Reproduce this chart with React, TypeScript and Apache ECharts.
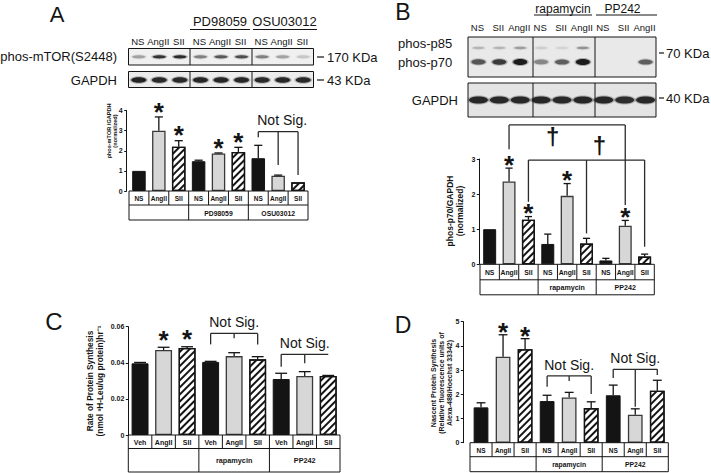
import React, { useEffect, useRef } from "react";
import * as echarts from "echarts";

// ---------------- data ----------------
const nsCategories = ["NS", "AngII", "SII", "NS", "AngII", "SII", "NS", "AngII", "SII"];
const vehCategories = ["Veh", "AngII", "SII", "Veh", "AngII", "SII", "Veh", "AngII", "SII"];
const aGroups = ["", "PD98059", "OSU03012"];
const rapGroups = ["", "rapamycin", "PP242"];

// Panel A: phos-mTOR / GAPDH (normalized)
const aMean = [1.0, 3.0, 2.2, 1.48, 1.86, 1.94, 1.63, 0.76, 0.43];
const aSem = [0, 0.68, 0.3, 0.05, 0.03, 0.23, 0.64, 0.03, 0];
const aStars = [1, 2, 4, 5];
const aTickLabels = ["0", "1", "2", "3", "4"];

// Panel B: phos-p70 / GAPDH (normalized)
const bMean = [1.0, 2.36, 1.27, 0.58, 1.95, 0.59, 0.11, 1.1, 0.22];
const bSem = [0, 0.38, 0.09, 0.28, 0.35, 0.15, 0.06, 0.15, 0.07];
const bStars = [1, 2, 4, 7];
const bTickLabels = ["0", "1", "2", "3"];

// Panel C: rate of protein synthesis
const cMean = [0.0397, 0.0471, 0.0482, 0.0405, 0.0437, 0.0419, 0.031, 0.0327, 0.0327];
const cSem = [0.0005, 0.0015, 0.0007, 0.0003, 0.0019, 0.0015, 0.0032, 0.0024, 0.0003];
const cStars = [1, 2];
const cTickLabels = ["0", "0.02", "0.04", "0.06"];

// Panel D: nascent protein synthesis
const dMean = [1.46, 3.55, 3.86, 1.72, 1.87, 1.43, 1.96, 1.16, 2.15];
const dSem = [0.19, 0.91, 0.44, 0.24, 0.21, 0.26, 0.42, 0.24, 0.43];
const dStars = [1, 2];
const dTickLabels = ["0", "1", "2", "3", "4", "5"];

// Significance brackets (levels in data units)
const aBrackets = [{ cats: [6, 7, 8], level: 2.95, drops: [2.67, 1.29, 0.8], label: "Not Sig.", labelDx: 4 }];
const bBrackets = [
  { cats: [1, 7], level: 3.97, drops: [3.28, 1.69], dagger: 3.25, daggerDy: 11.5 },
  { cats: [2, 5, 8], level: 2.97, drops: [1.78, 0.88, 0.5], dagger: 5.66, daggerDy: -15 },
];
const cBrackets = [
  { cats: [3, 4, 5], level: 0.0563, drops: [0.0502, 0.0536, 0.0502], label: "Not Sig." },
  { cats: [6, 7, 8], level: 0.0447, drops: [0.0378, 0.0397, null], label: "Not Sig." },
];
const dBrackets = [
  { cats: [3, 4, 5], level: 2.76, drops: [2.31, 2.55, 2.01], label: "Not Sig." },
  { cats: [6, 7, 8], level: 3.03, drops: [2.67, 1.49, 2.8], label: "Not Sig." },
];

// Western blot lanes and band intensities (0..1)
const blotALanes = ["NS", "AngII", "SII", "NS", "AngII", "SII", "NS", "AngII", "SII"];
const blotAGroups = ["PD98059", "OSU03012"];
const aMtorBands = [0.3, 0.85, 0.9, 0.45, 0.65, 0.7, 0.45, 0.3, 0.15];
const aGapdhBands = [0.95, 0.9, 0.9, 0.92, 0.92, 0.92, 0.9, 0.92, 0.9];
const blotBLanes = ["NS", "SII", "AngII", "NS", "SII", "AngII", "NS", "SII", "AngII"];
const blotBGroups = ["rapamycin", "PP242"];
const bP85Bands = [0.2, 0.2, 0.3, 0.1, 0.08, 0.35, 0, 0, 0];
const bP70Bands = [0.65, 0.8, 1.0, 0.4, 0.6, 1.0, 0, 0, 0.6];
const bGapdhBands = [0.92, 0.9, 0.92, 0.92, 0.9, 0.92, 0.92, 0.88, 0.92];

// ---------------- styling / layout ----------------
const FONT = "Arial, 'Liberation Sans', Helvetica, sans-serif";
const INK = "#141414";

const panels = [
  { cats: nsCategories, groups: aGroups, mean: aMean, sem: aSem, stars: aStars, ticks: aTickLabels, brackets: aBrackets },
  { cats: nsCategories, groups: rapGroups, mean: bMean, sem: bSem, stars: bStars, ticks: bTickLabels, brackets: bBrackets },
  { cats: vehCategories, groups: rapGroups, mean: cMean, sem: cSem, stars: cStars, ticks: cTickLabels, brackets: cBrackets },
  { cats: nsCategories, groups: rapGroups, mean: dMean, sem: dSem, stars: dStars, ticks: dTickLabels, brackets: dBrackets },
];

const layouts = [
  { left: 129, top: 110.5, width: 179, height: 80.5, axisOffset: 2.3, bar: 0.68, cap: 0.6, rows: [14, 15], starGap: 11, tableFont: 6.5 },
  { left: 480, top: 159, width: 174.3, height: 105.3, axisOffset: 0.7, bar: 0.67, cap: 0.55, rows: [15.5, 15], starGap: 9, tableFont: 6.8 },
  { left: 128.3, top: 326.7, width: 211.7, height: 108.3, axisOffset: 0, bar: 0.72, cap: 0.7, rows: [13.5, 23.5], starGap: 13, tableFont: 7 },
  { left: 470, top: 321.7, width: 198.3, height: 121, axisOffset: 6.7, bar: 0.67, cap: 0.6, rows: [14, 15], starGap: 8, tableFont: 6.5 },
];

function txt(x: number, y: number, text: string, size: number, opts: any = {}) {
  const align = opts.align || "center";
  const va = opts.va || "middle";
  return {
    type: "text",
    x,
    y,
    rotation: opts.rotation || 0,
    silent: true,
    z: 10,
    style: {
      text,
      fill: opts.fill || INK,
      fontSize: size,
      fontWeight: opts.weight || "normal",
      fontFamily: FONT,
      align,
      verticalAlign: va,
      textAlign: align,
      textVerticalAlign: va,
    },
  };
}

function ln(x1: number, y1: number, x2: number, y2: number, w = 1, color = INK) {
  return { type: "line", silent: true, shape: { x1, y1, x2, y2 }, style: { stroke: color, lineWidth: w } };
}

function barStyle(kind: number) {
  if (kind === 0) return { color: INK, borderColor: INK, borderWidth: 1 };
  if (kind === 1) return { color: "#d7d7d7", borderColor: "#3a3a3a", borderWidth: 1.3 };
  return {
    color: "#ffffff",
    borderColor: INK,
    borderWidth: 1.3,
    decal: {
      symbol: "rect",
      symbolSize: 1,
      dashArrayX: [1, 0],
      dashArrayY: [1.6, 2.2],
      rotation: -Math.PI / 4,
      color: INK,
    },
  };
}

function errorSeries(k: number) {
  const p = panels[k];
  const L = layouts[k];
  const data: number[][] = [];
  p.mean.forEach((m, i) => {
    if (p.sem[i] > 0) data.push([i, m, m + p.sem[i]]);
  });
  return {
    type: "custom",
    xAxisIndex: k,
    yAxisIndex: k,
    z: 3,
    silent: true,
    clip: false,
    data,
    renderItem: (params: any, api: any) => {
      const i = api.value(0);
      const p0 = api.coord([i, api.value(1)]);
      const p1 = api.coord([i, api.value(2)]);
      const half = (api.size([1, 0])[0] * L.bar * L.cap) / 2;
      return {
        type: "group",
        children: [
          { type: "line", shape: { x1: p0[0], y1: p0[1], x2: p1[0], y2: p1[1] }, style: { stroke: INK, lineWidth: 1.3 } },
          { type: "line", shape: { x1: p1[0] - half, y1: p1[1], x2: p1[0] + half, y2: p1[1] }, style: { stroke: INK, lineWidth: 1.3 } },
        ],
      };
    },
  };
}

function decorSeries(k: number) {
  const p = panels[k];
  const L = layouts[k];
  return {
    type: "custom",
    xAxisIndex: k,
    yAxisIndex: k,
    z: 4,
    silent: true,
    clip: false,
    data: [[0, 0]],
    renderItem: (params: any, api: any) => {
      const children: any[] = [];
      const cw = api.size([1, 0])[0];
      const c = (i: number, v: number) => api.coord([i, v]);
      const n = p.cats.length;
      const y0 = c(0, 0)[1];
      const left = c(0, 0)[0] - cw / 2;
      const right = c(n - 1, 0)[0] + cw / 2;
      const [h1, h2] = L.rows;
      // table
      children.push({ type: "rect", shape: { x: left, y: y0, width: right - left, height: h1 + h2 }, style: { fill: "none", stroke: INK, lineWidth: 1 } });
      children.push(ln(left, y0 + h1, right, y0 + h1));
      for (let i = 1; i < n; i++) {
        const x = left + cw * i;
        children.push(ln(x, y0, x, i % 3 === 0 ? y0 + h1 + h2 : y0 + h1));
      }
      p.cats.forEach((t, i) => children.push(txt(c(i, 0)[0], y0 + h1 / 2 + 0.5, t, L.tableFont, { weight: "bold" })));
      p.groups.forEach((g, gi) => {
        if (!g) return;
        const x = (c(3 * gi, 0)[0] + c(3 * gi + 2, 0)[0]) / 2;
        children.push(txt(x, y0 + h1 + h2 / 2 + 0.5, g, L.tableFont + 0.3, { weight: "bold" }));
      });
      // asterisks
      const starSize = 26;
      p.stars.forEach((i) => {
        const pt = c(i, p.mean[i] + p.sem[i]);
        children.push(txt(pt[0], pt[1] - L.starGap + 0.22 * starSize, "*", starSize, { weight: "bold" }));
      });
      // brackets
      p.brackets.forEach((b: any) => {
        const first = c(b.cats[0], b.level);
        const last = c(b.cats[b.cats.length - 1], b.level);
        const ly = first[1];
        children.push(ln(first[0], ly, last[0], ly, 1.3, "#2a2a2a"));
        b.cats.forEach((ci: number, j: number) => {
          const d = b.drops[j];
          if (d == null) return;
          const q = c(ci, d);
          children.push(ln(q[0], ly, q[0], q[1], 1.3, "#2a2a2a"));
        });
        if (b.label) {
          const mx = (first[0] + last[0]) / 2 + (b.labelDx || 0);
          children.push(txt(mx, ly - 6.5 - 0.35 * 14, b.label, 14));
        }
        if (b.dagger != null) {
          const i0 = Math.floor(b.dagger);
          const x = c(i0, 0)[0] + (b.dagger - i0) * cw;
          children.push(txt(x, ly + b.daggerDy, "\u2020", 24, { weight: "bold" }));
        }
      });
      return { type: "group", children };
    },
  };
}

function blotGraphics() {
  const els: any[] = [];
  // panel letters
  els.push(txt(57, 14.5, "A", 22));
  els.push(txt(403, 11.5, "B", 23));
  els.push(txt(54, 321, "C", 24));
  els.push(txt(403, 325, "D", 23));

  const band = (cx: number, cy: number, w: number, h: number, t: number) => {
    if (t <= 0) return;
    els.push({ type: "ellipse", silent: true, z: 6, shape: { cx, cy, rx: w / 2 + 1.5, ry: h / 2 + 1 }, style: { fill: "#1b1b1b", opacity: t * 0.3 } });
    els.push({ type: "ellipse", silent: true, z: 7, shape: { cx, cy, rx: w / 2, ry: h / 2 }, style: { fill: "#1b1b1b", opacity: t } });
  };
  const box = (x: number, y: number, w: number, h: number, fill: string, dividers: number[]) => {
    els.push({ type: "rect", silent: true, z: 5, shape: { x, y, width: w, height: h }, style: { fill, stroke: INK, lineWidth: 1 } });
    dividers.forEach((dx) => els.push({ ...ln(dx, y, dx, y + h, 1), z: 8 }));
  };

  // ---- blot A ----
  const ax0 = 128.5, aw = 185;
  const aLane = (i: number) => ax0 + ((i + 0.5) * aw) / 9;
  els.push(txt(220, 21, blotAGroups[0], 13));
  els.push(txt(284.5, 21, blotAGroups[1], 13));
  els.push(ln(190, 29.5, 250, 29.5, 1));
  els.push(ln(253, 29.5, 317, 29.5, 1));
  blotALanes.forEach((t, i) => els.push(txt(aLane(i) - 1, 41, t, 9.5)));
  box(ax0, 48.5, aw, 16.5, "#f0f0f0", [190, 252]);
  box(ax0, 71.5, aw, 16, "#ececec", [190, 252]);
  aMtorBands.forEach((t, i) => band(aLane(i), 56.8, 13, 3.2, t));
  aGapdhBands.forEach((t, i) => band(aLane(i), 80, 15, 5.5, t));
  els.push(txt(117, 56.5, "phos-mTOR(S2448)", 13, { align: "right" }));
  els.push(txt(117, 80, "GAPDH", 13, { align: "right" }));
  els.push(ln(317, 57, 324, 57, 1.2));
  els.push(txt(327, 57, "170 KDa", 13, { align: "left" }));
  els.push(ln(317, 80, 324, 80, 1.2));
  els.push(txt(327, 80, "43 KDa", 13, { align: "left" }));

  // ---- blot B ----
  const bx0 = 468, bw = 188;
  const bLane = (i: number) => bx0 + ((i + 0.5) * bw) / 9;
  els.push(txt(563, 9, blotBGroups[0], 12));
  els.push(txt(622.5, 9, blotBGroups[1], 12));
  els.push(ln(534, 15, 592, 15, 1));
  els.push(ln(596, 15, 657, 15, 1));
  blotBLanes.forEach((t, i) => els.push(txt(bLane(i) - 1, 27.5, t, 9.5)));
  box(bx0, 37, bw, 40, "#e9e9e9", [533, 595]);
  box(bx0, 83, bw, 34, "#e4e4e4", [533, 595]);
  bP85Bands.forEach((t, i) => band(bLane(i), 48, 12, 2.4, t));
  bP70Bands.forEach((t, i) => band(bLane(i), 62, 14, 4 + t * 2, t));
  bGapdhBands.forEach((t, i) => band(bLane(i), 100, 19, 7, t));
  els.push(txt(398, 43, "phos-p85", 13, { align: "left" }));
  els.push(txt(398, 62, "phos-p70", 13, { align: "left" }));
  els.push(txt(458, 100, "GAPDH", 13, { align: "right" }));
  els.push(ln(659, 53, 664, 53, 1.2));
  els.push(txt(666, 53, "70 KDa", 13, { align: "left" }));
  els.push(ln(659, 98, 664, 98, 1.2));
  els.push(txt(666, 98, "40 KDa", 13, { align: "left" }));

  // ---- y axis titles ----
  const rot = Math.PI / 2;
  els.push(txt(108.5, 131, "phos-mTOR /GAPDH", 5.6, { weight: "bold", rotation: rot }));
  els.push(txt(115, 131, "(normalized)", 5.6, { weight: "bold", rotation: rot }));
  els.push(txt(450, 211, "phos-p70/GAPDH", 8.5, { weight: "bold", rotation: rot }));
  els.push(txt(459.5, 211, "(normalized)", 8.5, { weight: "bold", rotation: rot }));
  els.push(txt(90, 381, "Rate of Protein Synthesis", 8.3, { weight: "bold", rotation: rot }));
  els.push(txt(99.5, 381, "(nmol \u00B3H-Leu/ug protein)hr\u207B\u00B9", 8.3, { weight: "bold", rotation: rot }));
  els.push(txt(433, 383, "Nascent Protein Synthesis", 7, { weight: "bold", rotation: rot }));
  els.push(txt(441, 383, "(Relative fluorescence units of", 7, { weight: "bold", rotation: rot }));
  els.push(txt(449, 383, "Alexa-488/Hoechst 33342)", 7, { weight: "bold", rotation: rot }));
  return els;
}

function buildOption() {
  const grid: any[] = [];
  const xAxis: any[] = [];
  const yAxis: any[] = [];
  const series: any[] = [];
  panels.forEach((p, k) => {
    const L = layouts[k];
    grid.push({ left: L.left, top: L.top, width: L.width, height: L.height, containLabel: false, outerBoundsMode: "none" });
    xAxis.push({ gridIndex: k, type: "category", data: p.cats, show: false, boundaryGap: true });
    const tickVals = p.ticks.map(Number);
    const interval = tickVals[1] - tickVals[0];
    yAxis.push({
      gridIndex: k,
      type: "value",
      min: tickVals[0],
      max: tickVals[tickVals.length - 1],
      interval,
      offset: L.axisOffset,
      axisLine: { show: true, lineStyle: { color: INK, width: 1 } },
      axisTick: { show: true, length: 2.5, lineStyle: { color: INK, width: 1 } },
      splitLine: { show: false },
      axisLabel: {
        show: true,
        margin: 4,
        fontSize: 7,
        fontWeight: "bold",
        fontFamily: FONT,
        color: INK,
        formatter: (v: number) => p.ticks[Math.round((v - tickVals[0]) / interval)] ?? "",
      },
    });
    series.push({
      type: "bar",
      xAxisIndex: k,
      yAxisIndex: k,
      barWidth: `${L.bar * 100}%`,
      silent: true,
      z: 2,
      data: p.mean.map((v, i) => ({ value: v, itemStyle: barStyle(i % 3) })),
    });
    series.push(errorSeries(k));
    series.push(decorSeries(k));
  });
  return {
    animation: false,
    backgroundColor: "#ffffff",
    textStyle: { fontFamily: FONT },
    grid,
    xAxis,
    yAxis,
    series,
    graphic: { elements: blotGraphics() },
  };
}

export default function App() {
  const ref = useRef<HTMLDivElement>(null);
  useEffect(() => {
    if (!ref.current) return;
    const chart = echarts.init(ref.current, undefined, { renderer: "svg", width: 711, height: 473 });
    chart.setOption(buildOption() as any);
    return () => chart.dispose();
  }, []);
  return (
    <div
      ref={ref}
      style={{ position: "fixed", left: 0, top: 0, width: 711, height: 473, background: "#fff" }}
    />
  );
}
